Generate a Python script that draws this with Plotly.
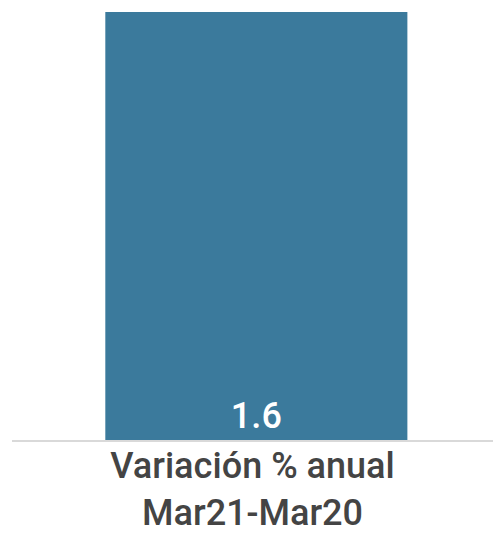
import plotly.graph_objects as go

categories = ["Variación % anual<br>Mar21-Mar20"]
values = [1.6]
value_labels = ["1.6"]

fig = go.Figure()

fig.add_trace(go.Bar(
    x=categories, y=values,
    text=value_labels,
    textposition="inside",
    insidetextanchor="start",
    textangle=0,
    textfont=dict(family="Roboto Medium, Roboto", size=36, color="white"),
    marker=dict(color="#3b7a9c", line=dict(width=0)),
    width=0.628,
    offset=-0.306,
    hoverinfo="skip",
    showlegend=False,
))

fig.update_layout(
    width=493, height=534,
    paper_bgcolor="white",
    plot_bgcolor="white",
    margin=dict(l=12, r=0, t=12, b=94),
    xaxis=dict(showgrid=False, zeroline=False, showline=True,
               linecolor="#d9d9d9", linewidth=2,
               tickfont=dict(family="Roboto Medium, Roboto", size=36, color="#444444"),
               ticks="", automargin=False, ticklabelstandoff=-7),
    yaxis=dict(showgrid=False, zeroline=False, showticklabels=False,
               range=[0, 1.6]),
    uniformtext=dict(minsize=8, mode="show"),
)

# page body margin off so the figure sits at the window origin
fig.write_html("out.html", config={"displayModeBar": False},
               post_script="document.body.style.margin='0';")
